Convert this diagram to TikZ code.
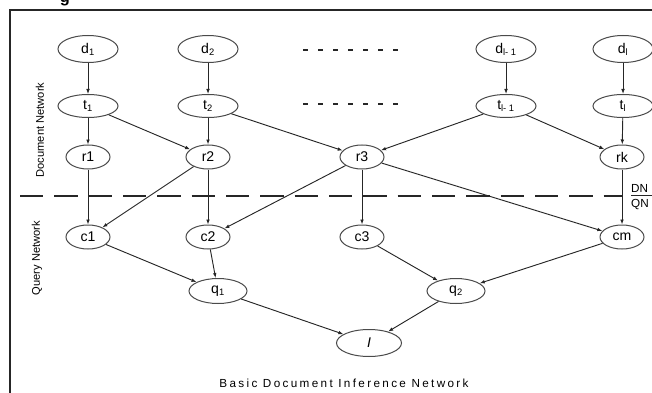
\documentclass[tikz,border=0pt]{standalone}
\usepackage{fontspec}
\setmainfont{Liberation Sans}
\usetikzlibrary{arrows.meta,shapes.geometric}
\definecolor{ink}{HTML}{262626}
\definecolor{rimgray}{HTML}{4A4A4A}

\begin{document}
\begin{tikzpicture}[x=0.3mm, y=-0.3mm, >={Latex[length=1.5mm,width=1.1mm]},
  oval/.style={ellipse, draw=rimgray, line width=0.3mm, inner sep=0pt, font=\fontsize{12}{13}\selectfont},
  docoval/.style={oval, minimum width=18mm, minimum height=8.1mm},
  termoval/.style={oval, minimum width=18mm, minimum height=6.9mm},
  smalloval/.style={oval, minimum width=13.2mm, minimum height=7.2mm},
  queryoval/.style={oval, minimum width=17.4mm, minimum height=7.5mm},
  dots/.style={ink, line width=0.65mm, dash pattern=on 1.5mm off 3mm},
  link/.style={->, ink, line width=0.28mm}]
  \useasboundingbox (0,0) rectangle (652,393);
  \node[anchor=base, font=\bfseries\fontsize{14}{14}\selectfont] (head) at (65,3) {g};
  \draw[ink, line width=0.6mm] (10,393) -- (10,10) -- (652,10);

  % document nodes
  \node[docoval] (d1) at (88,49) {d\textsubscript{1}};
  \node[docoval] (d2) at (208,49) {d\textsubscript{2}};
  \node[docoval] (dl1) at (506,49) {d\textsubscript{l- 1}};
  \node[docoval] (dl) at (623,49) {d\textsubscript{l}};
  \node[termoval] (t1) at (88,106) {t\textsubscript{1}};
  \node[termoval] (t2) at (208,106) {t\textsubscript{2}};
  \node[termoval] (tl1) at (506,106) {t\textsubscript{l- 1}};
  \node[termoval] (tl) at (623,106) {t\textsubscript{l}};
  \draw[dots] (303,50) -- (399,50);
  \draw[dots] (303,104) -- (399,104);

  \node[smalloval] (r1) at (88,157) {r1};
  \node[smalloval] (r2) at (208,157) {r2};
  \node[smalloval] (r3) at (362,157) {r3};
  \node[smalloval] (rk) at (622,157) {rk};

  % query nodes
  \node[smalloval] (c1) at (88,237) {c1};
  \node[smalloval] (c2) at (208,237) {c2};
  \node[smalloval] (c3) at (362,237) {c3};
  \node[smalloval] (cm) at (622,237) {cm};
  \node[queryoval] (q1) at (218,291) {q\textsubscript{1}};
  \node[queryoval] (q2) at (456,291) {q\textsubscript{2}};
  \node[oval, minimum width=19.5mm, minimum height=8.1mm] (inet) at (369,343) {\textit{I}};

  \draw[link] (d1) -- (t1);
  \draw[link] (d2) -- (t2);
  \draw[link] (dl1) -- (tl1);
  \draw[link] (dl) -- (tl);
  \draw[link] (t1) -- (r1);
  \draw[link] (t1) -- (r2);
  \draw[link] (t2) -- (r2);
  \draw[link] (t2) -- (r3);
  \draw[link] (tl1) -- (r3);
  \draw[link] (tl1) -- (rk);
  \draw[link] (tl) -- (rk);
  \draw[link] (r1) -- (c1);
  \draw[link] (r2) -- (c1);
  \draw[link] (r2) -- (c2);
  \draw[link] (r3) -- (c2);
  \draw[link] (r3) -- (c3);
  \draw[link] (r3) -- (cm);
  \draw[link] (rk) -- (cm);
  \draw[link] (c1) -- (q1);
  \draw[link] (c2) -- (q1);
  \draw[link] (c3) -- (q2);
  \draw[link] (cm) -- (q2);
  \draw[link] (q1) -- (inet);
  \draw[link] (q2) -- (inet);

  % DN / QN split
  \draw[ink, line width=0.8mm, dash pattern=on 7mm off 3.3mm] (20,196) -- (622,196);
  \node[anchor=south west, inner sep=0pt, font=\fontsize{10}{10}\selectfont] (dn) at (631,193) {DN};
  \node[anchor=north west, inner sep=0pt, font=\fontsize{10}{10}\selectfont] (qn) at (631,199) {QN};
  \draw[ink, line width=0.25mm] (dn.south west) ++(0,2.5) -- ++(22,0);

  \node[rotate=90, font=\fontsize{9.5}{10}\selectfont] (docnet) at (40,130) {Document Network};
  \node[rotate=90, font=\fontsize{9.5}{10}\selectfont] (querynet) at (37,258) {Query Network};
  \node[font=\fontsize{10}{12}\selectfont\addfontfeature{LetterSpace=20}] (caption) at (344,383) {Basic Document Inference Network};
\end{tikzpicture}
\end{document}
